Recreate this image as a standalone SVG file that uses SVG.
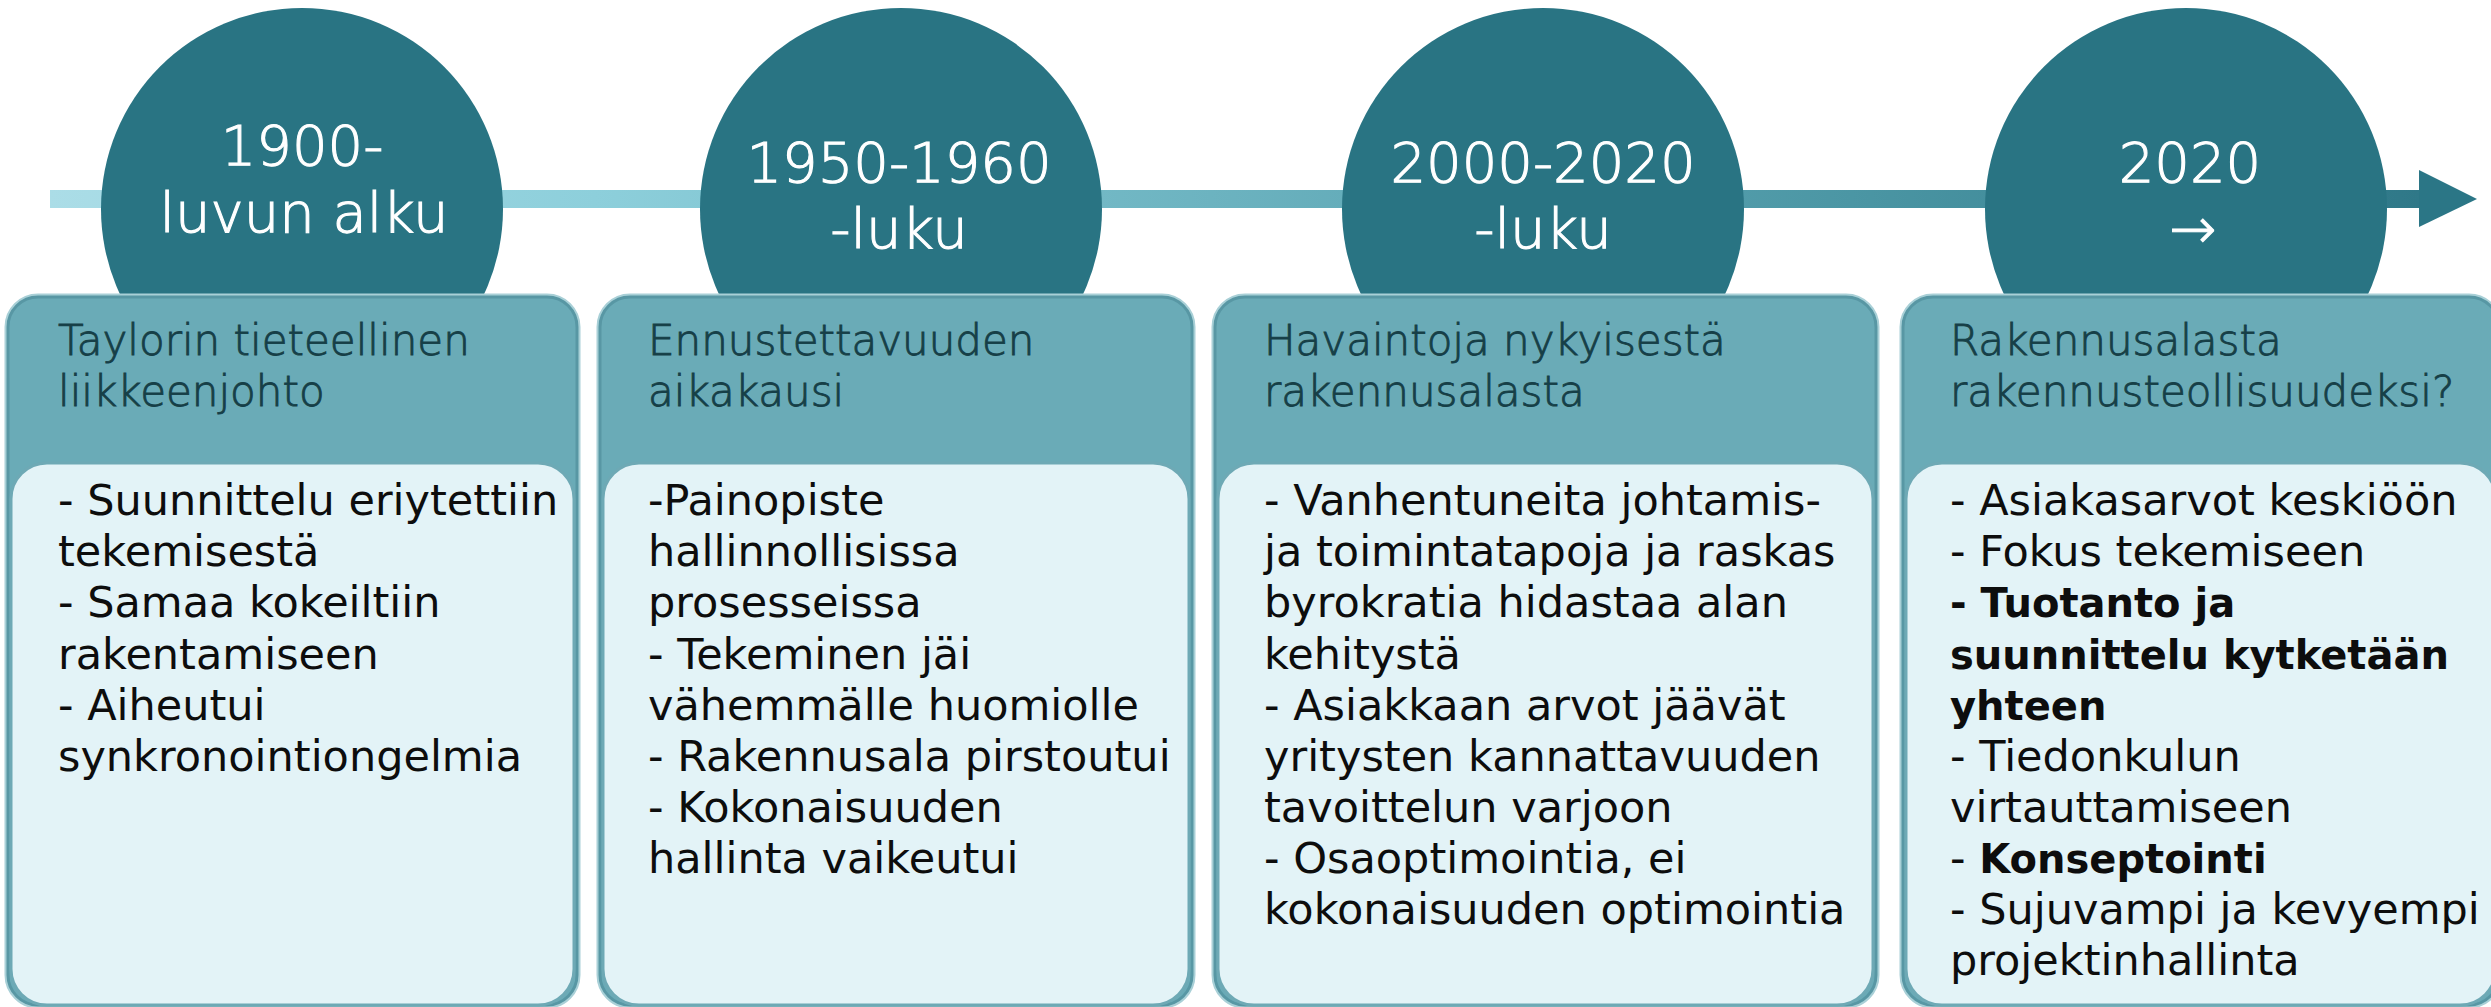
<svg xmlns="http://www.w3.org/2000/svg" width="2491" height="1007" viewBox="0 0 2491 1007">
<defs>
<linearGradient id="lineGrad" gradientUnits="userSpaceOnUse" x1="50" y1="0" x2="2420" y2="0">
<stop offset="0" stop-color="#abdde7"/>
<stop offset="0.23" stop-color="#8dcfdb"/>
<stop offset="0.49" stop-color="#6cb3c0"/>
<stop offset="0.76" stop-color="#4b96a4"/>
<stop offset="1" stop-color="#2f7888"/>
</linearGradient>
<style>
.circle{fill:#297483;}
.ctext{font-family:"DejaVu Sans","Noto Sans",sans-serif;font-size:56px;font-weight:300;fill:#ffffff;stroke:#ffffff;stroke-width:1.1px;text-anchor:middle;}
.outer{fill:#6aabb7;stroke:#5897a4;stroke-width:3;}
.halo{fill:none;stroke:#a9d0d7;stroke-width:7;}
.inner{fill:#e3f3f7;stroke:#6ea9b5;stroke-width:3;}
.head{font-family:"DejaVu Sans","Noto Sans",sans-serif;font-size:42px;font-weight:300;fill:#163f47;stroke:#163f47;stroke-width:0.9px;}
.body{font-family:"DejaVu Sans","Noto Sans",sans-serif;font-size:43px;fill:#0d0d0d;}
.b{font-weight:bold;font-size:40px;}
</style>
</defs>
<rect width="2491" height="1007" fill="#ffffff"/>
<g id="connectors">
<rect x="50" y="190" width="2372" height="18" fill="url(#lineGrad)"/>
<polygon points="2419,170 2477,199 2419,227" fill="#2b7686"/>
</g>
<g id="era1">
<circle class="circle" cx="302" cy="209" r="201"/>
<text class="ctext" x="302" y="165">1900-</text>
<text class="ctext" x="304" y="232">luvun alku</text>
</g>
<g id="era2">
<circle class="circle" cx="901" cy="209" r="201"/>
<text class="ctext" x="899" y="182">1950-1960</text>
<text class="ctext" x="899" y="248">-luku</text>
</g>
<g id="era3">
<circle class="circle" cx="1543" cy="209" r="201"/>
<text class="ctext" x="1543" y="182">2000-2020</text>
<text class="ctext" x="1543" y="248">-luku</text>
</g>
<g id="era4">
<circle class="circle" cx="2186" cy="209" r="201"/>
<text class="ctext" x="2190" y="182">2020</text>
<text class="ctext" x="2193" y="248">→</text>
</g>
<g id="box1">
<rect class="halo" x="8" y="297" width="569" height="708" rx="30"/>
<rect class="outer" x="8" y="297" width="569" height="708" rx="30"/>
<rect class="inner" x="11" y="463" width="563" height="542" rx="36"/>
<text class="head"><tspan x="58" y="355">Taylorin tieteellinen</tspan><tspan x="58" y="406">liikkeenjohto</tspan></text>
<text class="body"><tspan x="58" y="515">- Suunnittelu eriytettiin</tspan><tspan x="58" y="566">tekemisestä</tspan><tspan x="58" y="617">- Samaa kokeiltiin</tspan><tspan x="58" y="669">rakentamiseen</tspan><tspan x="58" y="720">- Aiheutui</tspan><tspan x="58" y="771">synkronointiongelmia</tspan></text>
</g>
<g id="box2">
<rect class="halo" x="600" y="297" width="592" height="708" rx="30"/>
<rect class="outer" x="600" y="297" width="592" height="708" rx="30"/>
<rect class="inner" x="603" y="463" width="586" height="542" rx="36"/>
<text class="head"><tspan x="648" y="355">Ennustettavuuden</tspan><tspan x="648" y="406">aikakausi</tspan></text>
<text class="body"><tspan x="648" y="515">-Painopiste</tspan><tspan x="648" y="566">hallinnollisissa</tspan><tspan x="648" y="617">prosesseissa</tspan><tspan x="648" y="669">- Tekeminen jäi</tspan><tspan x="648" y="720">vähemmälle huomiolle</tspan><tspan x="648" y="771">- Rakennusala pirstoutui</tspan><tspan x="648" y="822">- Kokonaisuuden</tspan><tspan x="648" y="873">hallinta vaikeutui</tspan></text>
</g>
<g id="box3">
<rect class="halo" x="1215" y="297" width="661" height="708" rx="30"/>
<rect class="outer" x="1215" y="297" width="661" height="708" rx="30"/>
<rect class="inner" x="1218" y="463" width="655" height="542" rx="36"/>
<text class="head"><tspan x="1264" y="355">Havaintoja nykyisestä</tspan><tspan x="1264" y="406">rakennusalasta</tspan></text>
<text class="body"><tspan x="1264" y="515">- Vanhentuneita johtamis-</tspan><tspan x="1264" y="566">ja toimintatapoja ja raskas</tspan><tspan x="1264" y="617">byrokratia hidastaa alan</tspan><tspan x="1264" y="669">kehitystä</tspan><tspan x="1264" y="720">- Asiakkaan arvot jäävät</tspan><tspan x="1264" y="771">yritysten kannattavuuden</tspan><tspan x="1264" y="822">tavoittelun varjoon</tspan><tspan x="1264" y="873">- Osaoptimointia, ei</tspan><tspan x="1264" y="924">kokonaisuuden optimointia</tspan></text>
</g>
<g id="box4">
<rect class="halo" x="1903" y="297" width="596" height="708" rx="30"/>
<rect class="outer" x="1903" y="297" width="596" height="708" rx="30"/>
<rect class="inner" x="1906" y="463" width="590" height="542" rx="36"/>
<text class="head"><tspan x="1950" y="355">Rakennusalasta</tspan><tspan x="1950" y="406">rakennusteollisuudeksi?</tspan></text>
<text class="body"><tspan x="1950" y="515">- Asiakasarvot keskiöön</tspan><tspan x="1950" y="566">- Fokus tekemiseen</tspan><tspan x="1950" y="617" class="b">- Tuotanto ja</tspan><tspan x="1950" y="669" class="b">suunnittelu kytketään</tspan><tspan x="1950" y="720" class="b">yhteen</tspan><tspan x="1950" y="771">- Tiedonkulun</tspan><tspan x="1950" y="822">virtauttamiseen</tspan><tspan x="1950" y="873">- <tspan class="b">Konseptointi</tspan></tspan><tspan x="1950" y="924">- Sujuvampi ja kevyempi</tspan><tspan x="1950" y="975">projektinhallinta</tspan></text>
</g>
</svg>
